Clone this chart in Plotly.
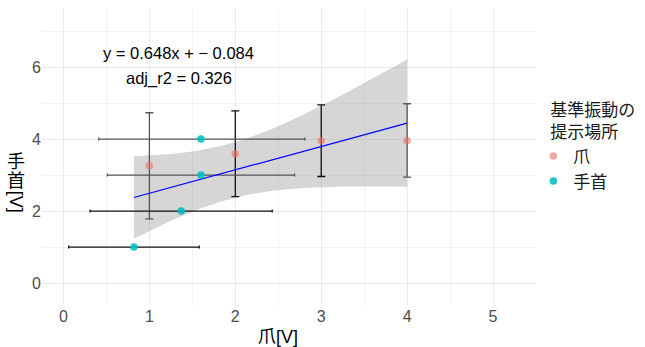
import numpy as np
import plotly.graph_objects as go

# ---- data ----
# 爪 (claw) group: points with vertical error bars
claw_x = [1, 2, 3, 4]
claw_y = [3.26, 3.59, 3.95, 3.95]
claw_ylo = [1.78, 2.40, 2.96, 2.94]
claw_yhi = [4.73, 4.78, 4.95, 4.98]

# 手首 (wrist) group: points with horizontal error bars
wrist_x = [1.60, 1.60, 1.37, 0.82]
wrist_y = [4, 3, 2, 1]
wrist_xlo = [0.41, 0.51, 0.31, 0.06]
wrist_xhi = [2.81, 2.69, 2.43, 1.58]

x_ticks = [0, 1, 2, 3, 4, 5]
y_ticks = [0, 2, 4, 6]
eq_line1 = "y = 0.648x + − 0.084"
eq_line2 = "adj_r2 = 0.326"
legend_title = "基準振動の<br>提示場所"
group_names = ["爪", "手首"]
x_title = "爪[V]"
y_title_cjk = ["手", "首"]
y_title_unit = "[V]"

# ---- styles ----
claw_err_col = ["#555555", "#111111", "#111111", "#555555"]
wrist_err_col = ["#555555", "#555555", "#111111", "#111111"]
RED = "rgba(240,110,100,0.6)"
TEAL = "rgba(0,191,196,0.88)"
FONT = "Liberation Sans, Arial, Noto Sans CJK JP, sans-serif"

# ---- linear fit over all points with 95% confidence band ----
xa = np.array(claw_x + wrist_x, dtype=float)
ya = np.array(claw_y + wrist_y, dtype=float)
n = len(xa)
slope, intercept = np.polyfit(xa, ya, 1)
resid = ya - (slope * xa + intercept)
s = np.sqrt(np.sum(resid ** 2) / (n - 2))
sxx = np.sum((xa - xa.mean()) ** 2)
t_crit = 2.446912  # t(0.975, df=6)
xs = np.linspace(xa.min(), xa.max(), 80)
fit = slope * xs + intercept
half = t_crit * s * np.sqrt(1.0 / n + (xs - xa.mean()) ** 2 / sxx)

fig = go.Figure()

# confidence ribbon
fig.add_trace(go.Scatter(x=xs, y=fit - half, mode="lines", line=dict(width=0),
                         showlegend=False, hoverinfo="skip"))
fig.add_trace(go.Scatter(x=xs, y=fit + half, mode="lines", line=dict(width=0),
                         fill="tonexty", fillcolor="rgba(153,153,153,0.4)",
                         showlegend=False, hoverinfo="skip"))

# error bars
for xv, yv, lo, hi, col in zip(claw_x, claw_y, claw_ylo, claw_yhi, claw_err_col):
    fig.add_trace(go.Scatter(
        x=[xv], y=[yv], mode="markers", marker=dict(size=0.1, color="rgba(0,0,0,0)"),
        error_y=dict(type="data", symmetric=False, array=[hi - yv], arrayminus=[yv - lo],
                     color=col, thickness=1.3, width=4),
        showlegend=False, hoverinfo="skip"))
for xv, yv, lo, hi, col in zip(wrist_x, wrist_y, wrist_xlo, wrist_xhi, wrist_err_col):
    fig.add_trace(go.Scatter(
        x=[xv], y=[yv], mode="markers", marker=dict(size=0.1, color="rgba(0,0,0,0)"),
        error_x=dict(type="data", symmetric=False, array=[hi - xv], arrayminus=[xv - lo],
                     color=col, thickness=1.3, width=1.5),
        showlegend=False, hoverinfo="skip"))

# fitted line
fig.add_trace(go.Scatter(x=xs, y=fit, mode="lines", line=dict(color="blue", width=1.2),
                         showlegend=False, hoverinfo="skip"))

# points
fig.add_trace(go.Scatter(x=claw_x, y=claw_y, mode="markers", name=group_names[0],
                         marker=dict(color=RED, size=7.5)))
fig.add_trace(go.Scatter(x=wrist_x, y=wrist_y, mode="markers", name=group_names[1],
                         marker=dict(color=TEAL, size=7.5)))

# equation annotation
fig.add_annotation(x=1.34, y=6.39, text=eq_line1, showarrow=False,
                   font=dict(size=16.5, color="black", family=FONT), xref="x", yref="y")
fig.add_annotation(x=1.34, y=5.69, text=eq_line2, showarrow=False,
                   font=dict(size=16.5, color="black", family=FONT), xref="x", yref="y")

# x-axis title
fig.add_annotation(xref="paper", yref="paper", x=0.477, y=-0.108, text=x_title,
                   showarrow=False, xanchor="center", yanchor="middle",
                   font=dict(size=18, color="black", family=FONT))

# y-axis title in vertical writing (CJK upright, [V] rotated)
for ch, yp in zip(y_title_cjk, [0.481, 0.417]):
    fig.add_annotation(xref="paper", yref="paper", x=-0.052, y=yp, text=ch,
                       showarrow=False, xanchor="center", yanchor="middle",
                       font=dict(size=18, color="black", family=FONT))
fig.add_annotation(xref="paper", yref="paper", x=-0.052, y=0.347, text=y_title_unit,
                   textangle=90, showarrow=False, xanchor="center", yanchor="middle",
                   font=dict(size=18, color="black", family=FONT))

fig.update_layout(
    width=645, height=347,
    margin=dict(l=42, r=109, t=8, b=42, autoexpand=False),
    plot_bgcolor="white", paper_bgcolor="white",
    font=dict(family=FONT, color="#4D4D4D"),
    legend=dict(title=dict(text=legend_title, font=dict(size=17, color="#1a1a1a")),
                font=dict(size=17, color="#1a1a1a"),
                x=1.025, xanchor="left", y=0.71, yanchor="top",
                itemwidth=30, indentation=-15, tracegroupgap=0,
                traceorder="normal", bgcolor="rgba(0,0,0,0)"),
    xaxis=dict(range=[-0.25, 5.5], tickvals=x_ticks, ticktext=[str(v) for v in x_ticks],
               automargin=False,
               showgrid=True, gridcolor="#EBEBEB", gridwidth=1.1, zeroline=False,
               showline=False, ticks="", tickfont=dict(size=16, color="#4D4D4D"),
               minor=dict(dtick=0.5, tick0=0.5, showgrid=True, gridcolor="#F2F2F2", gridwidth=0.6)),
    yaxis=dict(range=[-0.61, 7.64], tickvals=y_ticks, ticktext=[str(v) for v in y_ticks],
               automargin=False,
               showgrid=True, gridcolor="#EBEBEB", gridwidth=1.1, zeroline=False,
               showline=False, ticks="", tickfont=dict(size=16, color="#4D4D4D"),
               minor=dict(dtick=1, tick0=1, showgrid=True, gridcolor="#F2F2F2", gridwidth=0.6)),
)

fig.write_html("out.html", config={"displayModeBar": False},
               post_script="document.body.style.margin='0';")
